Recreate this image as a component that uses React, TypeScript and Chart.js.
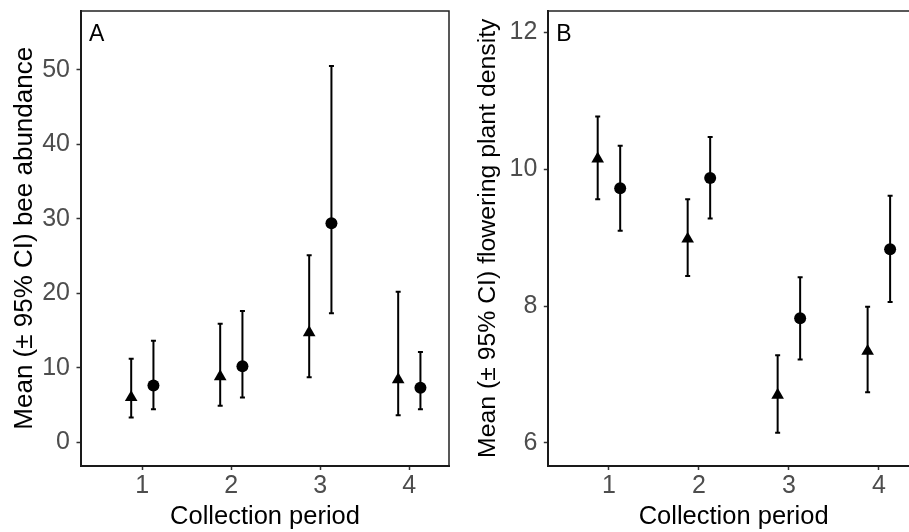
import { useEffect, useRef } from "react";
import { Chart, registerables } from "chart.js";

Chart.register(...registerables);

// ---- Data ----
const periods = [1, 2, 3, 4];
const periodLabels = ["1", "2", "3", "4"];

const beeTriMean = [6.0, 8.8, 14.7, 8.4];
const beeTriLow = [3.3, 4.9, 8.7, 3.6];
const beeTriHigh = [11.2, 15.9, 25.1, 20.2];
const beeCircMean = [7.6, 10.2, 29.4, 7.3];
const beeCircLow = [4.4, 6.0, 17.3, 4.4];
const beeCircHigh = [13.6, 17.6, 50.5, 12.1];

const plantTriMean = [10.15, 8.98, 6.7, 7.34];
const plantTriLow = [9.56, 8.44, 6.15, 6.74];
const plantTriHigh = [10.77, 9.56, 7.28, 7.99];
const plantCircMean = [9.72, 9.87, 7.82, 8.83];
const plantCircLow = [9.1, 9.28, 7.22, 8.06];
const plantCircHigh = [10.34, 10.47, 8.42, 9.61];

const beeTicks = [0, 10, 20, 30, 40, 50];
const plantTicks = [6, 8, 10, 12];

// ---- Styles ----
const FONT = "'Liberation Sans', Arial, Helvetica, sans-serif";
const DODGE = 0.125;
const CAP = 2.5;
const TICK_SIZE = 25;
const TITLE_SIZE = 25.5;

const errorBarPlugin = {
  id: "errorBars",
  beforeDatasetsDraw(chart: any) {
    const { ctx, scales } = chart;
    const x = scales.x;
    const y = scales.y;
    chart.data.datasets.forEach((ds: any) => {
      if (!ds.errLow) return;
      ctx.save();
      ctx.strokeStyle = "#000";
      ctx.lineWidth = 2;
      ds.data.forEach((pt: any, i: number) => {
        const px = x.getPixelForValue(pt.x);
        const yl = y.getPixelForValue(ds.errLow[i]);
        const yh = y.getPixelForValue(ds.errHigh[i]);
        ctx.beginPath();
        ctx.moveTo(px, yl);
        ctx.lineTo(px, yh);
        ctx.moveTo(px - CAP, yl);
        ctx.lineTo(px + CAP, yl);
        ctx.moveTo(px - CAP, yh);
        ctx.lineTo(px + CAP, yh);
        ctx.stroke();
      });
      ctx.restore();
    });
  },
};

const framePlugin = {
  id: "frame",
  afterDraw(chart: any, _args: any, opts: any) {
    const { ctx, chartArea } = chart;
    ctx.save();
    ctx.strokeStyle = "#222";
    ctx.lineWidth = 1.5;
    ctx.beginPath();
    ctx.moveTo(chartArea.left, chartArea.top);
    ctx.lineTo(chartArea.right, chartArea.top);
    ctx.lineTo(chartArea.right, chartArea.bottom);
    ctx.stroke();
    ctx.fillStyle = "#000";
    ctx.font = `23px ${FONT}`;
    ctx.textAlign = "left";
    ctx.textBaseline = "alphabetic";
    ctx.fillText(opts.letter || "", chartArea.left + 8, chartArea.top + 29.5);
    ctx.restore();
  },
};

function makeDatasets(triMean: number[], triLow: number[], triHigh: number[], cMean: number[], cLow: number[], cHigh: number[]) {
  return [
    {
      label: "tri",
      data: periods.map((p, i) => ({ x: p - DODGE, y: triMean[i] })),
      errLow: triLow,
      errHigh: triHigh,
      pointStyle: "triangle",
      pointRadius: 7.3,
      backgroundColor: "#000",
      borderWidth: 0,
      showLine: false,
    },
    {
      label: "circ",
      data: periods.map((p, i) => ({ x: p + DODGE, y: cMean[i] })),
      errLow: cLow,
      errHigh: cHigh,
      pointStyle: "circle",
      pointRadius: 6,
      backgroundColor: "#000",
      borderWidth: 0,
      showLine: false,
    },
  ];
}

function makeConfig(p: {
  datasets: any[];
  yTicks: number[];
  yMin: number;
  yMax: number;
  xMin: number;
  xMax: number;
  yWidth: number;
  yTitle: string;
  yTitlePad: number;
  yTitleSize: number;
  letter: string;
}) {
  return {
    type: "scatter",
    data: { datasets: p.datasets },
    plugins: [errorBarPlugin, framePlugin],
    options: {
      animation: false,
      responsive: false,
      devicePixelRatio: 1,
      layout: { padding: { top: 11, right: 11, left: 0, bottom: 0 } },
      plugins: {
        legend: { display: false },
        tooltip: { enabled: false },
        frame: { letter: p.letter },
      },
      scales: {
        x: {
          type: "linear",
          min: p.xMin,
          max: p.xMax,
          afterBuildTicks: (s: any) => {
            s.ticks = periods.map((v) => ({ value: v }));
          },
          afterFit: (s: any) => {
            s.height = 66.5;
            s.paddingLeft = 0;
            s.paddingRight = 0;
          },
          ticks: {
            callback: (_v: any, i: number) => periodLabels[i],
            color: "#4D4D4D",
            font: { family: FONT, size: TICK_SIZE },
            padding: 1.5,
            maxRotation: 0,
            autoSkip: false,
          },
          grid: {
            drawOnChartArea: false,
            drawTicks: true,
            tickLength: 4.5,
            tickColor: "#333",
            tickWidth: 1.5,
          },
          border: { display: true, color: "#1a1a1a", width: 2 },
          title: {
            display: true,
            text: "Collection period",
            color: "#000",
            font: { family: FONT, size: TITLE_SIZE, lineHeight: 1.2 },
            padding: { top: 0, bottom: 0 },
          },
        },
        y: {
          type: "linear",
          min: p.yMin,
          max: p.yMax,
          afterBuildTicks: (s: any) => {
            s.ticks = p.yTicks.map((v) => ({ value: v }));
          },
          afterFit: (s: any) => {
            s.width = p.yWidth;
            s.paddingTop = 0;
            s.paddingBottom = 0;
          },
          ticks: {
            callback: (v: any) => String(v),
            color: "#4D4D4D",
            font: { family: FONT, size: TICK_SIZE },
            padding: 6.5,
            autoSkip: false,
          },
          grid: {
            drawOnChartArea: false,
            drawTicks: true,
            tickLength: 4.5,
            tickColor: "#333",
            tickWidth: 1.5,
          },
          border: { display: true, color: "#1a1a1a", width: 2 },
          title: {
            display: true,
            text: p.yTitle,
            color: "#000",
            font: { family: FONT, size: p.yTitleSize, lineHeight: 1.2 },
            padding: { top: p.yTitlePad, bottom: 0 },
          },
        },
      },
    },
  } as any;
}

export default function App() {
  const refA = useRef<HTMLCanvasElement>(null);
  const refB = useRef<HTMLCanvasElement>(null);

  useEffect(() => {
    const a = new Chart(
      refA.current as HTMLCanvasElement,
      makeConfig({
        datasets: makeDatasets(beeTriMean, beeTriLow, beeTriHigh, beeCircMean, beeCircLow, beeCircHigh),
        yTicks: beeTicks,
        yMin: -3.14,
        yMax: 57.9,
        xMin: 0.311,
        xMax: 4.446,
        yWidth: 81,
        yTitle: "Mean (± 95% CI) bee abundance",
        yTitlePad: 9.4,
        yTitleSize: 26,
        letter: "A",
      })
    );
    const b = new Chart(
      refB.current as HTMLCanvasElement,
      makeConfig({
        datasets: makeDatasets(plantTriMean, plantTriLow, plantTriHigh, plantCircMean, plantCircLow, plantCircHigh),
        yTicks: plantTicks,
        yMin: 5.67,
        yMax: 12.31,
        xMin: 0.326,
        xMax: 4.446,
        yWidth: 88.3,
        yTitle: "Mean (± 95% CI) flowering plant density",
        yTitlePad: 13.1,
        yTitleSize: 24.8,
        letter: "B",
      })
    );
    return () => {
      a.destroy();
      b.destroy();
    };
  }, []);

  return (
    <div
      style={{
        position: "fixed",
        left: 0,
        top: 0,
        width: 909,
        height: 532,
        overflow: "hidden",
        background: "#fff",
      }}
    >
      <canvas
        ref={refA}
        width={460}
        height={532}
        style={{ position: "absolute", left: 0, top: 0, width: 460, height: 532 }}
      />
      <canvas
        ref={refB}
        width={470}
        height={532}
        style={{ position: "absolute", left: 460, top: 0, width: 470, height: 532 }}
      />
    </div>
  );
}
